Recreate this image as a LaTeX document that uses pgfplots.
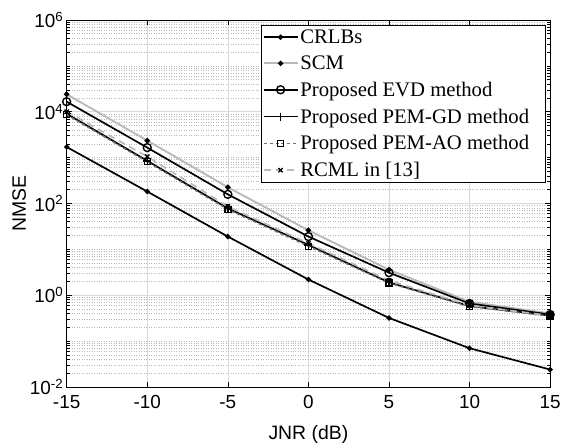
\documentclass[border=0pt]{standalone}
\usepackage{fontspec}
\setmainfont{Liberation Serif}
\newfontfamily\arial{Liberation Sans}
\usepackage{pgfplots}
\pgfplotsset{compat=1.18}
\definecolor{lgray}{RGB}{185,185,185}
\definecolor{mgray}{RGB}{110,110,110}
\begin{document}
\begin{tikzpicture}
\begin{axis}[
  scale only axis,
  width=486pt, height=369pt,
  ymode=log,
  xmin=-15, xmax=15,
  ymin=1e-2, ymax=1e6,
  xtick={-15,-10,-5,0,5,10,15},
  ytick={1e-2,1e0,1e2,1e4,1e6},
  yticklabels={10\textsuperscript{-2},10\textsuperscript{0},10\textsuperscript{2},10\textsuperscript{4},10\textsuperscript{6}},
  minor ytick={2e-2,3e-2,4e-2,5e-2,6e-2,7e-2,8e-2,9e-2,1e-1,
    2e-1,3e-1,4e-1,5e-1,6e-1,7e-1,8e-1,9e-1,
    2,3,4,5,6,7,8,9,10,20,30,40,50,60,70,80,90,
    200,300,400,500,600,700,800,900,1000,2000,3000,4000,5000,6000,7000,8000,9000,
    20000,30000,40000,50000,60000,70000,80000,90000,100000,200000,300000,400000,500000,600000,700000,800000,900000},
  /pgf/number format/assume math mode=true,
  tick label style={font=\arial\fontsize{19}{22}\selectfont},
  xticklabel style={yshift=-5pt},
  xlabel={JNR (dB)},
  ylabel={NMSE},
  every axis x label/.style={at={(axis description cs:0.5,-0.130)}, anchor=center, font=\arial\fontsize{19.5}{22}\selectfont},
  every axis y label/.style={at={(axis description cs:-0.098,0.5)}, anchor=center, rotate=90, font=\arial\fontsize{19.5}{22}\selectfont},
  tick align=inside,
  major tick length=5pt,
  minor tick length=3pt,
  grid=both,
  major grid style={line width=0.6pt, black!15},
  minor grid style={line width=0.5pt, black!28, dotted},
  axis line style={line width=0.8pt},
  every tick/.style={black, line width=0.5pt},
  legend cell align=left,
  legend style={at={(0.401,0.985)}, anchor=north west, font=\fontsize{20.8}{24}\selectfont,
    draw=black, inner sep=2pt, row sep=7pt},
  legend image code/.code={\draw[line width=1.7pt, mark repeat=2,mark phase=2] plot coordinates {(0cm,0cm) (0.6cm,0cm) (1.2cm,0cm)};},
]
\addplot[black, line width=1.7pt, mark=*, mark size=1.7pt] coordinates {
(-15,1700) (-10,182) (-5,19) (0,2.2) (5,0.32) (10,0.070) (15,0.024)};
\addlegendentry{CRLBs}
\addplot[lgray, line width=1.9pt, mark=*, mark size=1.7pt, mark options={black}] coordinates {
(-15,24000) (-10,2350) (-5,225) (0,26) (5,3.6) (10,0.72) (15,0.40)};
\addlegendentry{SCM}
\addplot[black, line width=1.7pt, mark=o, mark size=4pt, mark options={line width=1.4pt}] coordinates {
(-15,16500) (-10,1650) (-5,158) (0,19) (5,3.1) (10,0.66) (15,0.38)};
\addlegendentry{Proposed EVD method}
\addplot[black, line width=1.7pt, mark=+, mark size=4pt, mark options={line width=1.4pt}] coordinates {
(-15,9000) (-10,850) (-5,78) (0,12.5) (5,1.9) (10,0.58) (15,0.36)};
\addlegendentry{Proposed PEM-GD method\hspace*{12pt}}
\addplot[mgray, line width=1.5pt, dashed, mark=square, mark size=3pt, mark options={black, solid, line width=1.4pt}] coordinates {
(-15,8600) (-10,810) (-5,74) (0,11.7) (5,1.85) (10,0.57) (15,0.35)};
\addlegendentry{Proposed PEM-AO method}
\addplot[lgray, line width=1.7pt, dash pattern=on 7pt off 5pt, mark=x, mark size=3pt, mark options={black, solid, line width=1.4pt}] coordinates {
(-15,10000) (-10,1050) (-5,86) (0,13.5) (5,2.1) (10,0.60) (15,0.36)};
\addlegendentry{RCML in [13]}
\end{axis}
\path (current axis.south west) ++(-67pt,-61pt) rectangle ++(564pt,450pt);
\end{tikzpicture}
\end{document}
